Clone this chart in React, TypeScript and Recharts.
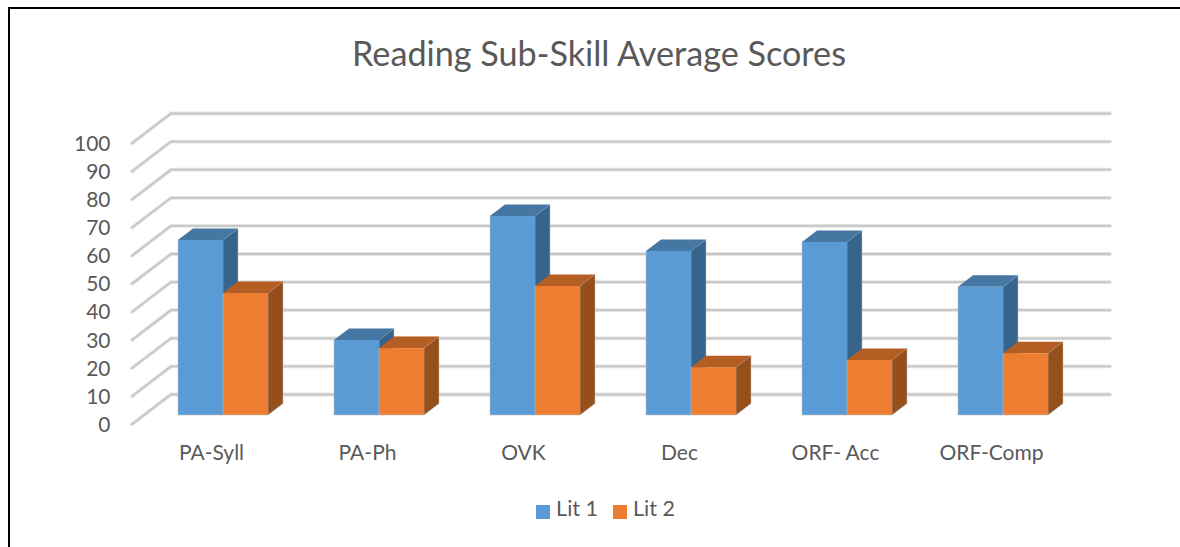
import { Bar, BarChart, CartesianGrid, Legend, XAxis, YAxis } from "recharts"

const categories = ["PA-Syll", "PA-Ph", "OVK", "Dec", "ORF- Acc", "ORF-Comp"]
const lit1 = [62.3, 26.7, 70.8, 58.4, 61.6, 45.6]
const lit2 = [43.4, 23.8, 45.9, 17, 19.6, 22]
const yTicks = [0, 10, 20, 30, 40, 50, 60, 70, 80, 90, 100]

const chartData = categories.map((name, i) => ({ name, "Lit 1": lit1[i], "Lit 2": lit2[i] }))

const TEXT = "#595959"
const FONT = "Lato, Carlito, sans-serif"
const DEPTH_X = 15
const DEPTH_Y = 11.5

// the bars stand on a floor, so each gridline runs back from the front edge and then along the wall
function GridLine(props: any) {
  const { y1, x1 } = props
  const pts = `${x1 - 12.5},${y1 + 9.3} ${x1 + 26.5},${y1 - 20.5} 1110,${y1 - 20.5}`
  return (
    <g key={`grid-${y1}`}>
      <polyline points={pts} fill="none" stroke="#e4e4e4" strokeWidth={3.8} strokeLinecap="round" />
      <polyline points={pts} fill="none" stroke="#c6c6c6" strokeWidth={1.8} strokeLinecap="round" />
    </g>
  )
}

function makeBox(topFill: string, sideFill: string) {
  return function Box(props: any) {
    const { x, y, width, height, fill } = props
    const r = x + width
    const b = y + height
    return (
      <g>
        <path
          d={`M${r},${y} L${r + DEPTH_X},${y - DEPTH_Y} L${r + DEPTH_X},${b - DEPTH_Y} L${r},${b} Z`}
          fill={sideFill}
          stroke="#bdbdbd"
          strokeWidth={0.5}
        />
        <path
          d={`M${x},${y} L${x + DEPTH_X},${y - DEPTH_Y} L${r + DEPTH_X},${y - DEPTH_Y} L${r},${y} Z`}
          fill={topFill}
        />
        <rect x={x} y={y} width={width} height={height} fill={fill} />
        <path d={`M${x},${y} L${x},${b} L${r},${b}`} fill="none" stroke="#bdbdbd" strokeWidth={0.6} />
      </g>
    )
  }
}

const BlueBox = makeBox("#4676A2", "#37648C")
const OrangeBox = makeBox("#B45E23", "#964F1B")

function YTick(props: any) {
  const { x, y, payload } = props
  return (
    <text x={x} y={y + 9.3} dy="0.36em" textAnchor="end" fill={TEXT} fontSize={21} fontFamily={FONT}>
      {payload.value}
    </text>
  )
}

function XTick(props: any) {
  const { x, y, payload } = props
  return (
    <text x={x - 11} y={y} dy="0.36em" textAnchor="middle" fill={TEXT} fontSize={21} fontFamily={FONT}>
      {payload.value}
    </text>
  )
}

export default function App() {
  return (
    <div style={{ position: "absolute", left: 0, top: 0, width: 1180, height: 547, background: "#fff", overflow: "hidden" }}>
      {/* pasted picture: the frame only shows on the top and left */}
      <div
        style={{
          position: "absolute",
          left: 8,
          top: 7,
          width: 1300,
          height: 700,
          borderTop: "2px solid #000",
          borderLeft: "2.5px solid #000",
        }}
      />
      <div
        style={{
          position: "absolute",
          left: 0,
          width: 1198,
          top: 32,
          textAlign: "center",
          fontFamily: FONT,
          fontSize: 34.2,
          lineHeight: "42px",
          color: TEXT,
        }}
      >
        Reading Sub-Skill Average Scores
      </div>
      <BarChart
        width={1180}
        height={547}
        data={chartData}
        barGap={0}
        barCategoryGap={33.5}
        margin={{ top: 134, right: 99.5, bottom: 46, left: 0 }}
        style={{ position: "absolute", left: 0, top: 0 }}
      >
        <CartesianGrid vertical={false} horizontal={GridLine} />
        <XAxis dataKey="name" axisLine={false} tickLine={false} tickSize={0} tickMargin={37} height={60} tick={XTick} interval={0} />
        <YAxis
          domain={[0, 100]}
          ticks={yTicks}
          axisLine={false}
          tickLine={false}
          tickSize={0}
          tickMargin={34}
          width={144.5}
          tick={YTick}
          interval={0}
        />
        <Legend
          verticalAlign="bottom"
          iconType="square"
          iconSize={14}
          wrapperStyle={{ position: "absolute", left: 0, width: 1226, top: 495, bottom: "auto" }}
          formatter={(value: string) => (
            <span style={{ color: TEXT, fontSize: 21.5, fontFamily: FONT, marginRight: 5, marginLeft: 2 }}>{value}</span>
          )}
        />
        <Bar dataKey="Lit 1" fill="#5B9BD5" shape={BlueBox} isAnimationActive={false} />
        <Bar dataKey="Lit 2" fill="#ED7D31" shape={OrangeBox} isAnimationActive={false} />
      </BarChart>
    </div>
  )
}
